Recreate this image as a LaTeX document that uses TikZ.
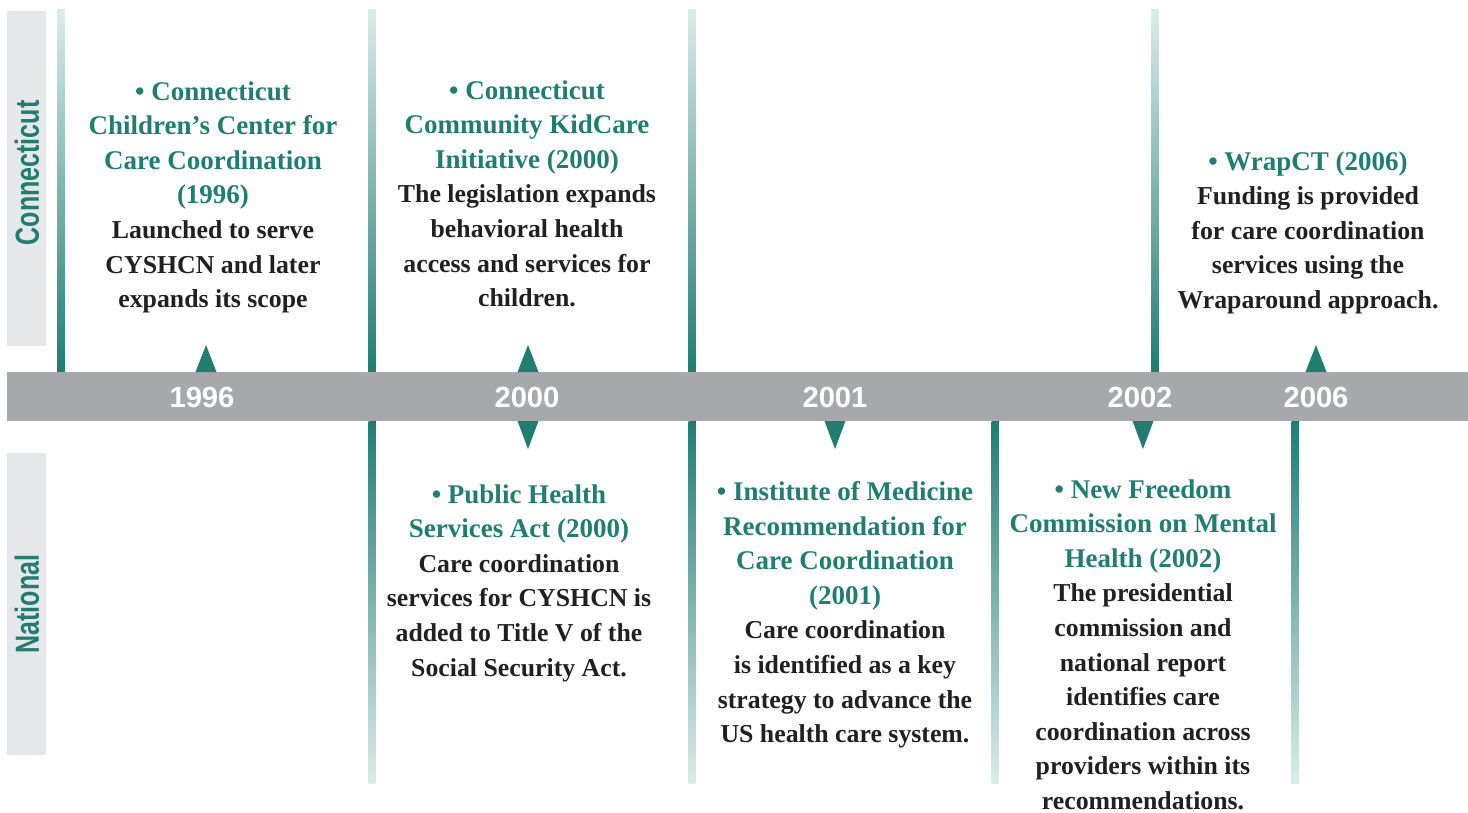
\documentclass[tikz,border=0pt]{standalone}
\usepackage{fontspec}
\setmainfont{Liberation Serif}
\setsansfont{Liberation Sans}
\usetikzlibrary{positioning}
\definecolor{tlteal}{RGB}{31,125,113}
\definecolor{tlpale}{RGB}{218,236,233}
\definecolor{bandgray}{RGB}{167,168,172}
\definecolor{tabgray}{RGB}{230,231,232}
\definecolor{inkblack}{RGB}{35,31,32}
\newcommand{\ttl}[1]{\textcolor{tlteal}{\fontsize{13.5}{17.3}\selectfont #1}}

\begin{document}
\begin{tikzpicture}[
  x=0.5pt, y=-0.5pt,
  event/.style={align=center, inner sep=0pt, anchor=north, text=inkblack,
                font=\bfseries\fontsize{12.9}{17.3}\selectfont},
  year/.style={text=white, inner sep=0pt,
               font=\sffamily\bfseries\fontsize{14.6}{17}\selectfont},
  side/.style={rotate=90, inner sep=0pt, text=tlteal,
               font=\sffamily\bfseries\fontsize{16.7}{20}\selectfont},
  tab/.style={fill=tabgray},
  marker/.style={fill=tlteal},
]
\useasboundingbox (0,0) rectangle (1468,813);

\def\lw{3.5}   % half width of a divider
\def\bt{372}   % band top
\def\bb{421}   % band bottom

%% --- Side tabs ---
\fill[tab] (7,11) rectangle (46,346);
\fill[tab] (7,453) rectangle (46,755);
\node[side] (ct) at (27,173) {\scalebox{0.75}[1]{Connecticut}};
\node[side] (nat) at (27,604) {\scalebox{0.75}[1]{National}};

%% --- Dividers, fading away from the band ---
\foreach \x in {61, 372, 692, 1155}{
  \fill[top color=tlpale, bottom color=tlteal] (\x-\lw,10) rectangle (\x+\lw,\bt);
}
\foreach \x in {372, 692, 995, 1295}{
  \fill[top color=tlteal, bottom color=tlpale] (\x-\lw,\bb) rectangle (\x+\lw,783);
}

%% --- Band and years ---
\fill[bandgray] (7,\bt) rectangle (1468,\bb);
\foreach \x/\yr in {202/1996, 527/2000, 835/2001, 1140/2002, 1316/2006}{
  \node[year] (y\yr) at (\x,397.5) {\yr};
}

%% --- Markers ---
\foreach \x in {206, 528, 1316}{
  \fill[marker] (\x-10.5,\bt) -- (\x,345) -- (\x+10.5,\bt) -- cycle;
}
\foreach \x in {528, 835, 1143}{
  \fill[marker] (\x-10.5,\bb) -- (\x,449) -- (\x+10.5,\bb) -- cycle;
}

%% --- Connecticut events ---
\node[event] (ev1996) at (213,81) {\ttl{• Connecticut}\\ \ttl{Children’s Center for}\\
  \ttl{Care Coordination}\\ \ttl{(1996)}\\ Launched to serve\\ CYSHCN and later\\
  expands its scope};
\node[event] (ev2000) at (527,80) {\ttl{• Connecticut}\\ \ttl{Community KidCare}\\
  \ttl{Initiative (2000)}\\ The legislation expands\\ behavioral health\\
  access and services for\\ children.};
\node[event] (ev2006) at (1308,151) {\ttl{• WrapCT (2006)}\\ Funding is provided\\
  for care coordination\\ services using the\\ Wraparound approach.};

%% --- National events ---
\node[event] (nt2000) at (519,484) {\ttl{• Public Health}\\ \ttl{Services Act (2000)}\\
  Care coordination\\ services for CYSHCN is\\ added to Title V of the\\
  Social Security Act.};
\node[event] (nt2001) at (845,481) {\ttl{• Institute of Medicine}\\ \ttl{Recommendation for}\\
  \ttl{Care Coordination}\\ \ttl{(2001)}\\ Care coordination\\ is identified as a key\\
  strategy to advance the\\ US health care system.};
\node[event] (nt2002) at (1143,479) {\ttl{• New Freedom}\\ \ttl{Commission on Mental}\\
  \ttl{Health (2002)}\\ The presidential\\ commission and\\ national report\\
  identifies care\\ coordination across\\ providers within its\\ recommendations.};

\end{tikzpicture}
\end{document}
